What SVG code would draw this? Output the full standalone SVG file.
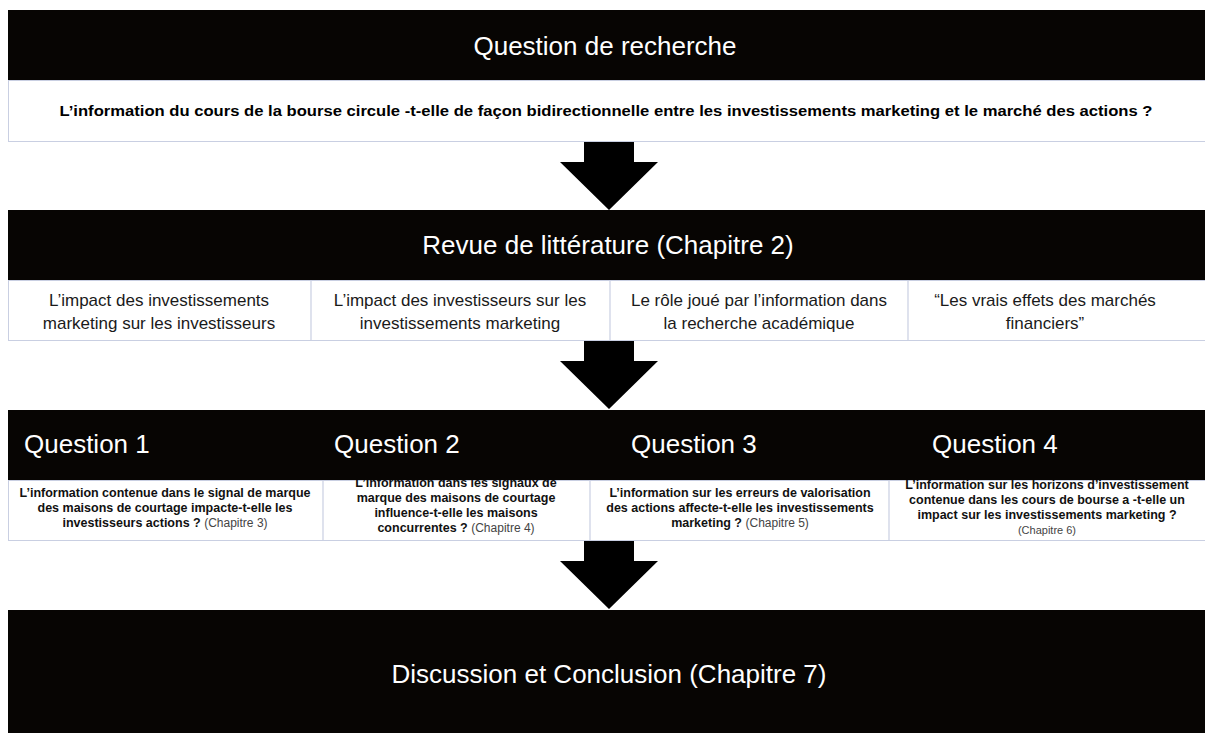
<svg xmlns="http://www.w3.org/2000/svg" width="1205" height="733" viewBox="0 0 1205 733">
<style>
.bar{fill:#070503}
.box{fill:#ffffff;stroke:#c9cfe2;stroke-width:1}
.div{stroke:#c9cfe2;stroke-width:1.2}
.title{font-family:"Liberation Sans",Arial,sans-serif;font-size:26px;fill:#ffffff;text-anchor:middle}
.qt{font-family:"Liberation Sans",Arial,sans-serif;font-size:26px;fill:#ffffff}
.main{font-family:"Liberation Sans",Arial,sans-serif;font-size:15px;font-weight:bold;fill:#000;text-anchor:middle}
.rev{font-family:"Liberation Sans",Arial,sans-serif;font-size:17px;fill:#1a1a1a;text-anchor:middle}
.q{font-family:"Liberation Sans",Arial,sans-serif;font-size:12.5px;font-weight:bold;fill:#111;text-anchor:middle}
.ch{font-weight:normal;fill:#444;font-size:12px}
.arrow{fill:#000}
</style>
<rect width="1205" height="733" fill="#ffffff"/>

<g id="connectors">
<polygon class="arrow" points="584,142 634,142 634,162 658,162 609,210 560,162 584,162"/>
<polygon class="arrow" points="584,341 634,341 634,361 658,361 609,409 560,361 584,361"/>
<polygon class="arrow" points="584,541 634,541 634,561 658,561 609,609 560,561 584,561"/>
</g>

<g id="question-recherche">
<rect class="bar" x="8" y="10" width="1197" height="70"/>
<text class="title" x="605" y="55">Question de recherche</text>
<rect class="box" x="8.5" y="80.5" width="1200" height="61"/>
<text class="main" x="606" y="116" textLength="1093" lengthAdjust="spacingAndGlyphs">L’information du cours de la bourse circule -t-elle de façon bidirectionnelle entre les investissements marketing et le marché des actions ?</text>
</g>

<g id="revue-litterature">
<rect class="bar" x="8" y="210" width="1197" height="70"/>
<text class="title" x="608" y="254">Revue de littérature (Chapitre 2)</text>
<rect class="box" x="8.5" y="280.5" width="1200" height="60"/>
<line class="div" x1="311" y1="281" x2="311" y2="341"/>
<line class="div" x1="610" y1="281" x2="610" y2="341"/>
<line class="div" x1="908" y1="281" x2="908" y2="341"/>
<text class="rev" x="159" y="306">L’impact des investissements</text>
<text class="rev" x="159" y="329">marketing sur les investisseurs</text>
<text class="rev" x="460" y="306">L’impact des investisseurs sur les</text>
<text class="rev" x="460" y="329">investissements marketing</text>
<text class="rev" x="759" y="306">Le rôle joué par l’information dans</text>
<text class="rev" x="759" y="329">la recherche académique</text>
<text class="rev" x="1045" y="306">“Les vrais effets des marchés</text>
<text class="rev" x="1045" y="329">financiers”</text>
</g>

<g id="questions">
<rect class="box" x="8.5" y="480.5" width="1200" height="60"/>
<line class="div" x1="323" y1="481" x2="323" y2="541"/>
<line class="div" x1="590" y1="481" x2="590" y2="541"/>
<line class="div" x1="889" y1="481" x2="889" y2="541"/>
<text class="q" x="165" y="497">L’information contenue dans le signal de marque</text>
<text class="q" x="165" y="512">des maisons de courtage impacte-t-elle les</text>
<text class="q" x="165" y="527">investisseurs actions ? <tspan class="ch">(Chapitre 3)</tspan></text>
<text class="q" x="456" y="487">L’information dans les signaux de</text>
<text class="q" x="456" y="502">marque des maisons de courtage</text>
<text class="q" x="456" y="517">influence-t-elle les maisons</text>
<text class="q" x="456" y="532">concurrentes ? <tspan class="ch">(Chapitre 4)</tspan></text>
<text class="q" x="740" y="497">L’information sur les erreurs de valorisation</text>
<text class="q" x="740" y="512">des actions affecte-t-elle les investissements</text>
<text class="q" x="740" y="527">marketing ? <tspan class="ch">(Chapitre 5)</tspan></text>
<text class="q" x="1047" y="489">L’information sur les horizons d’investissement</text>
<text class="q" x="1047" y="504">contenue dans les cours de bourse a -t-elle un</text>
<text class="q" x="1047" y="519">impact sur les investissements marketing ?</text>
<text class="q ch" x="1047" y="534" style="font-size:11px">(Chapitre 6)</text>
<rect class="bar" x="8" y="410" width="1197" height="70"/>
<text class="qt" x="24" y="453">Question 1</text>
<text class="qt" x="334" y="453">Question 2</text>
<text class="qt" x="631" y="453">Question 3</text>
<text class="qt" x="932" y="453">Question 4</text>
</g>

<g id="discussion-conclusion">
<rect class="bar" x="8" y="610" width="1197" height="123"/>
<text class="title" x="609" y="683">Discussion et Conclusion (Chapitre 7)</text>
</g>
</svg>
